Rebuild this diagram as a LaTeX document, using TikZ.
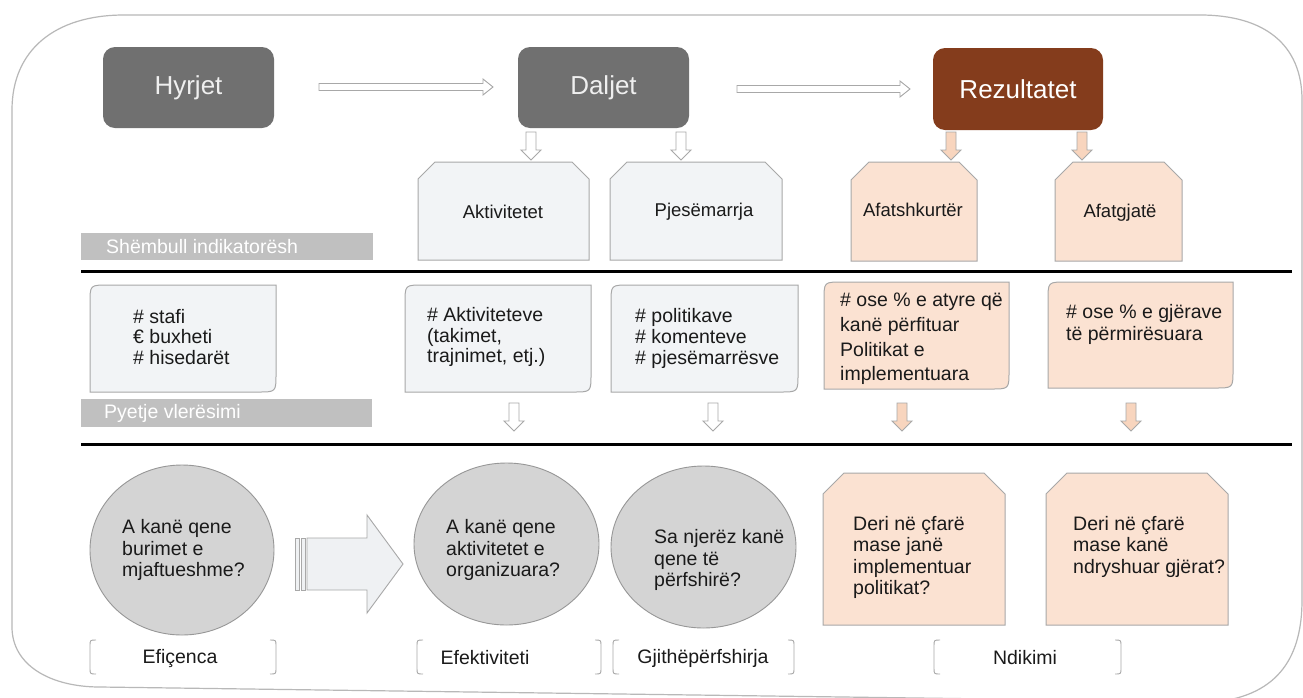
\documentclass[tikz,border=0pt]{standalone}
\usepackage{fontspec}
\setmainfont{Liberation Sans}
\usetikzlibrary{shapes.geometric,calc}
\definecolor{dgray}{HTML}{707070}
\definecolor{toptext}{HTML}{EFEFEF}
\definecolor{rezbrown}{HTML}{843C1C}
\definecolor{lightbox}{HTML}{F2F4F6}
\definecolor{peach}{HTML}{FBE2D2}
\definecolor{peacharr}{HTML}{F8D5BE}
\definecolor{circfill}{HTML}{D4D4D4}
\definecolor{bdr}{HTML}{A8A8A8}
\definecolor{barc}{HTML}{C0C0C0}
\definecolor{framec}{HTML}{B8B8B8}
\definecolor{txt}{HTML}{1A1A1A}
\definecolor{bigarr}{HTML}{EFF1F3}
\newcommand{\chamf}[3]{\path[#3] (#1.south west) -- ($(#1.north west)+(0,#2)$) -- ($(#1.north west)+(#2,0)$) -- ($(#1.north east)+(-#2,0)$) -- ($(#1.north east)+(0,#2)$) -- (#1.south east) -- cycle;}
\newcommand{\diagbox}[3]{\path[#3] ($(#1.north west)+(0,#2)$) .. controls (#1.north west) .. ($(#1.north west)+(#2,0)$) -- (#1.north east) -- ($(#1.south east)+(0,-#2)$) .. controls (#1.south east) .. ($(#1.south east)+(-#2,0)$) -- (#1.south west) -- cycle;}
\newcommand{\varr}[2]{\draw[arrline, fill=#2] (#1) ++(-5,0) -- ++(10,0) -- ++(0,18) -- ++(5,0) -- ++(-10,10) -- ++(-10,-10) -- ++(5,0) -- cycle;}
\newcommand{\harr}[2]{\draw[arrline, fill=white] (#1) ++(0,-3.5) -- ++(#2,0) -- ++(0,-4.5) -- ++(10,8) -- ++(-10,8) -- ++(0,-4.5) -- ++(-#2,0) -- cycle;}
\newcommand{\lbrk}[1]{\draw[brk] (#1) ++(6,0) .. controls +(-6,0) and +(0,-6) .. ++(-6,6) -- ++(0,22) .. controls +(0,6) and +(-6,0) .. ++(6,6);}
\newcommand{\rbrk}[1]{\draw[brk] (#1) ++(-6,0) .. controls +(6,0) and +(0,-6) .. ++(6,6) -- ++(0,22) .. controls +(0,6) and +(6,0) .. ++(-6,6);}
\tikzset{
  topbox/.style={rounded corners=12pt, inner sep=0pt, minimum width=171pt, minimum height=81pt, font=\fontsize{26}{30}\selectfont},
  framebox/.style={inner sep=0pt, outer sep=0pt, draw=none},
  boxline/.style={draw=bdr, line width=1pt},
  arrline/.style={draw=bdr, line width=0.9pt, line join=miter},
  headtext/.style={font=\fontsize{18.5}{22}\selectfont, text=txt, inner sep=0pt},
  bodytext/.style={font=\fontsize{19.5}{21.5}\selectfont, text=txt, inner sep=0pt, anchor=west, align=left},
  bartext/.style={font=\fontsize{19.5}{22}\selectfont, text=white, inner sep=0pt, anchor=west},
  bar/.style={fill=barc, inner sep=0pt, minimum height=27pt},
  circ/.style={ellipse, draw=bdr!90!black, line width=0.9pt, fill=circfill, inner sep=0pt},
  brk/.style={draw=bdr, line width=0.9pt},
  lbltext/.style={font=\fontsize{19.5}{22}\selectfont, text=txt, inner sep=0pt},
  sepline/.style={line width=3pt, black}
}
\begin{document}
\begin{tikzpicture}[x=1pt,y=-1pt]
\useasboundingbox (0,0) rectangle (1303,697);
\fill[white] (0,0) rectangle (1303,697);
% outer frame
\draw[framec, line width=1.2pt] (124,15) -- (1200,15) .. controls (1265,15) and (1302,45) .. (1302,100) -- (1302,600) .. controls (1302,655) and (1280,695) .. (1215,702) -- (100,687) .. controls (50,687) and (12,665) .. (12,627) -- (12,110) .. controls (12,50) and (55,15) .. (124,15) -- cycle;

% top boxes
\node[topbox, fill=dgray, text=toptext] (hy) at (188.5,87.5) {Hyrjet};
\node[topbox, fill=dgray, text=toptext] (dal) at (603.5,87.5) {Daljet};
\node[topbox, fill=rezbrown, text=white, minimum width=170pt, minimum height=82pt] (rez) at (1018,89) {Rezultatet};

% horizontal arrows
\coordinate (a1s) at (319,87);
\coordinate (a2s) at (737,89);
\harr{a1s}{164}
\harr{a2s}{163}

% top down arrows
\coordinate (v1) at (531,132);
\coordinate (v2) at (681,132);
\coordinate (v3) at (951,132);
\coordinate (v4) at (1082,132);
\varr{v1}{white}
\varr{v2}{white}
\varr{v3}{peacharr}
\varr{v4}{peacharr}

% chamfered top boxes
\node[framebox, minimum width=171pt, minimum height=98pt] (akt) at (503.5,211) {};
\node[framebox, minimum width=172pt, minimum height=98pt] (pje) at (696,211) {};
\node[framebox, minimum width=126pt, minimum height=99pt] (afs) at (914,211.5) {};
\node[framebox, minimum width=127pt, minimum height=99pt] (afg) at (1118.5,211.5) {};
\chamf{akt}{17}{boxline, fill=lightbox}
\chamf{pje}{17}{boxline, fill=lightbox}
\chamf{afs}{18}{boxline, fill=peach}
\chamf{afg}{18}{boxline, fill=peach}
\node[headtext] (aktt) at (503,212) {Aktivitetet};
\node[headtext] (pjet) at (704,212) {Pjesëmarrja};
\node[headtext] (afst) at (913,210) {Afatshkurtër};
\node[headtext] (afgt) at (1120,213) {Afatgjatë};

% bar 1
\node[bar, minimum width=292pt] (bar1) at (227,246.5) {};
\node[bartext] (bar1t) at (106,247) {Shëmbull indikatorësh};

\draw[sepline] (81,271) -- (1292,271);

% middle boxes
\node[framebox, minimum width=186pt, minimum height=107pt] (m1) at (183,338.5) {};
\node[framebox, minimum width=186pt, minimum height=107pt] (m2) at (498,338.5) {};
\node[framebox, minimum width=187pt, minimum height=107pt] (m3) at (704.5,338.5) {};
\node[framebox, minimum width=185pt, minimum height=107pt] (m4) at (916.5,335.5) {};
\node[framebox, minimum width=185pt, minimum height=106pt] (m5) at (1140.5,335) {};
\diagbox{m1}{18}{boxline, fill=lightbox}
\diagbox{m2}{18}{boxline, fill=lightbox}
\diagbox{m3}{18}{boxline, fill=lightbox}
\diagbox{m4}{18}{boxline, fill=peach}
\diagbox{m5}{18}{boxline, fill=peach}
\node[bodytext, font=\fontsize{19.5}{20.5}\selectfont] (m1t) at (133,337) {\# stafi\\€ buxheti\\\# hisedarët};
\node[bodytext, font=\fontsize{19.5}{20.5}\selectfont] (m2t) at (427,337) {\# Aktiviteteve\\(takimet,\\trajnimet, etj.)};
\node[bodytext, font=\fontsize{19.5}{21}\selectfont] (m3t) at (635,338) {\# politikave\\\# komenteve\\\# pjesëmarrësve};
\node[bodytext, font=\fontsize{19.5}{24.7}\selectfont] (m4t) at (840,339) {\# ose \% e atyre që\\kanë përfituar\\Politikat e\\implementuara};
\node[bodytext, font=\fontsize{19.5}{22}\selectfont] (m5t) at (1066,324) {\# ose \% e gjërave\\të përmirësuara};

% bar 2
\node[bar, minimum width=291pt, minimum height=28pt] (bar2) at (226.5,413) {};
\node[bartext] (bar2t) at (104,413) {Pyetje vlerësimi};

% middle down arrows
\coordinate (w1) at (514,403);
\coordinate (w2) at (713,403);
\coordinate (w3) at (902,403);
\coordinate (w4) at (1131,403);
\varr{w1}{white}
\varr{w2}{white}
\varr{w3}{peacharr}
\varr{w4}{peacharr}

\draw[sepline] (81,444) -- (1292,444);

% circles
\node[circ, minimum width=184pt, minimum height=170pt] (c1) at (182,550) {};
\node[circ, minimum width=185pt, minimum height=162pt] (c2) at (506.5,544) {};
\node[circ, minimum width=185pt, minimum height=162pt] (c3) at (703.5,547) {};
\node[bodytext] (c1t) at (122,550) {A kanë qene\\burimet e\\mjaftueshme?};
\node[bodytext] (c2t) at (446,550) {A kanë qene\\aktivitetet e\\organizuara?};
\node[bodytext] (c3t) at (654,560) {Sa njerëz kanë\\qene të\\përfshirë?};

% big striped arrow from c1 to c2
\draw[arrline, fill=bigarr] (295,538) rectangle (299,590);
\draw[arrline, fill=bigarr] (301,538) rectangle (305,590);
\draw[arrline, fill=bigarr] (307,538) -- (367,538) -- (367,515) -- (403,564) -- (367,613) -- (367,590) -- (307,590) -- cycle;

% bottom peach boxes
\node[framebox, minimum width=182pt, minimum height=152pt] (b1) at (914,549) {};
\node[framebox, minimum width=182pt, minimum height=152pt] (b2) at (1137,549) {};
\chamf{b1}{21}{boxline, fill=peach}
\chamf{b2}{21}{boxline, fill=peach}
\node[bodytext] (b1t) at (853,557.5) {Deri në çfarë\\mase janë\\implementuar\\politikat?};
\node[bodytext] (b2t) at (1073,546.5) {Deri në çfarë\\mase kanë\\ndryshuar gjërat?};

% brackets
\coordinate (k1l) at (90,640);  \coordinate (k1r) at (276,640);
\coordinate (k2l) at (417,640); \coordinate (k2r) at (601,640);
\coordinate (k3l) at (613,640); \coordinate (k3r) at (794,640);
\coordinate (k4l) at (934,640); \coordinate (k4r) at (1121,640);
\lbrk{k1l} \rbrk{k1r}
\lbrk{k2l} \rbrk{k2r}
\lbrk{k3l} \rbrk{k3r}
\lbrk{k4l} \rbrk{k4r}
\node[lbltext] (efi) at (180,658) {Efiçenca};
\node[lbltext] (efk) at (485,658) {Efektiviteti};
\node[lbltext] (gji) at (703,658) {Gjithëpërfshirja};
\node[lbltext] (ndi) at (1025,658) {Ndikimi};
\end{tikzpicture}
\end{document}
